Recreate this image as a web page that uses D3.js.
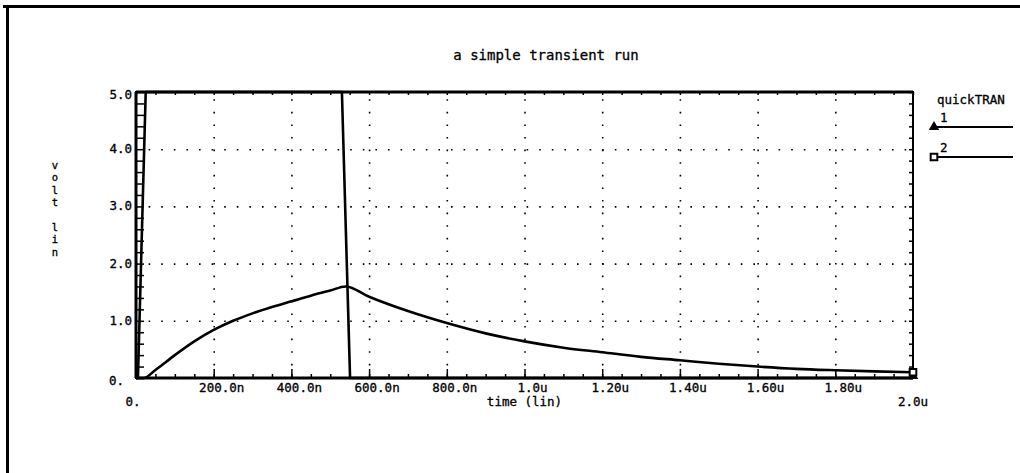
<!DOCTYPE html>
<html>
<head>
<meta charset="utf-8">
<script src="https://cdn.jsdelivr.net/npm/d3@7/dist/d3.min.js"></script>
<style>
  html, body { margin: 0; padding: 0; background: #fff; }
  svg { display: block; }
  text { font-family: "DejaVu Sans Mono", "Liberation Mono", monospace; fill: #000; stroke: #000; stroke-width: 0.3; }
</style>
</head>
<body>
<svg id="chart" width="1020" height="473"></svg>
<script>
// Transient run: time in microseconds, node voltages in volts
const pulseTime  = [0, 0.005, 0.025, 0.530, 0.551, 2.0];
const pulseVolts = [0, 0,     5.0,   5.0,   0,     0];

const rcTime  = [0, 0.02, 0.05, 0.10, 0.15, 0.20, 0.25, 0.30, 0.35, 0.40, 0.45, 0.50, 0.54,
                 0.60, 0.70, 0.80, 0.90, 1.00, 1.10, 1.20, 1.30, 1.40, 1.50, 1.60, 1.70, 1.80, 1.90, 2.00];
const rcVolts = [0, 0,    0.14, 0.40, 0.64, 0.84, 1.00, 1.13, 1.24, 1.34, 1.44, 1.53, 1.60,
                 1.42, 1.17, 0.96, 0.78, 0.64, 0.53, 0.45, 0.37, 0.31, 0.25, 0.20, 0.16, 0.135, 0.115, 0.10];

const xMajor = [0.2, 0.4, 0.6, 0.8, 1.0, 1.2, 1.4, 1.6, 1.8];
const xMajorLabels = ["200.0n", "400.0n", "600.0n", "800.0n", "1.0u", "1.20u", "1.40u", "1.60u", "1.80u"];
const yMajor = [0, 1, 2, 3, 4, 5];
const yMajorLabels = ["0.", "1.0", "2.0", "3.0", "4.0", "5.0"];

const chartTitle = "a simple transient run";
const xTitle = "time (lin)";
const yTitle = "volt lin";
const legendTitle = "quickTRAN";
const seriesNames = ["1", "2"];

const svg = d3.select("#chart");
const plot = { left: 136, right: 913, top: 92, bottom: 378 };

const x = d3.scaleLinear().domain([0, 2.0]).range([plot.left, plot.right]);
const y = d3.scaleLinear().domain([0, 5.0]).range([plot.bottom, plot.top]);

// page frame (top and left edges)
svg.append("line").attr("x1", 3).attr("x2", 1020).attr("y1", 6.5).attr("y2", 6.5)
  .attr("stroke", "#000").attr("stroke-width", 3);
svg.append("line").attr("x1", 7.5).attr("x2", 7.5).attr("y1", 5).attr("y2", 473)
  .attr("stroke", "#000").attr("stroke-width", 3);

// dotted grid
const grid = svg.append("g");
grid.append("g").attr("transform", `translate(0,${plot.bottom})`)
  .call(d3.axisBottom(x).tickValues(xMajor).tickSize(-(plot.bottom - plot.top)).tickFormat(""))
  .call(g => g.select(".domain").remove());
grid.append("g").attr("transform", `translate(${plot.left},0)`)
  .call(d3.axisLeft(y).tickValues(yMajor.slice(1, 5)).tickSize(-(plot.right - plot.left)).tickFormat(""))
  .call(g => g.select(".domain").remove());
grid.selectAll("line").attr("stroke", "#000").attr("stroke-width", 1.6)
  .attr("stroke-dasharray", "1.6,11");

// inward ticks on all four sides
const minorX = d3.range(0, 2.0001, 0.05);
const minorY = d3.range(0, 5.0001, 0.2);
function ticks(axis, tr) {
  const g = svg.append("g").attr("transform", tr).call(axis);
  g.select(".domain").remove();
  g.selectAll("line").attr("stroke", "#000").attr("stroke-width", 1.5);
  return g;
}
ticks(d3.axisBottom(x).tickValues(minorX).tickSize(-4).tickFormat(""), `translate(0,${plot.bottom})`);
ticks(d3.axisBottom(x).tickValues(xMajor).tickSize(-9).tickFormat(""), `translate(0,${plot.bottom})`);
ticks(d3.axisLeft(y).tickValues(minorY).tickSize(-8).tickFormat(""), `translate(${plot.left},0)`);
ticks(d3.axisTop(x).tickValues(minorX).tickSize(-3).tickFormat(""), `translate(0,${plot.top})`);
ticks(d3.axisRight(y).tickValues(minorY).tickSize(-4).tickFormat(""), `translate(${plot.right},0)`);

// plot frame
svg.append("rect").attr("x", plot.left).attr("y", plot.top)
  .attr("width", plot.right - plot.left).attr("height", plot.bottom - plot.top)
  .attr("fill", "none").attr("stroke", "#000").attr("stroke-width", 2);
svg.append("line").attr("x1", plot.left).attr("x2", plot.right).attr("y1", plot.bottom).attr("y2", plot.bottom)
  .attr("stroke", "#000").attr("stroke-width", 3);
svg.append("line").attr("x1", plot.left).attr("x2", plot.left).attr("y1", plot.top).attr("y2", plot.bottom)
  .attr("stroke", "#000").attr("stroke-width", 3);
svg.append("line").attr("x1", plot.left).attr("x2", plot.right).attr("y1", plot.top).attr("y2", plot.top)
  .attr("stroke", "#000").attr("stroke-width", 3);

// traces
const line = d3.line().x(d => x(d[0])).y(d => y(d[1]));
const pulse = pulseTime.map((t, i) => [t, pulseVolts[i]]);
const rc = rcTime.map((t, i) => [t, rcVolts[i]]);
svg.append("path").datum(pulse).attr("d", line)
  .attr("fill", "none").attr("stroke", "#000").attr("stroke-width", 2.6).attr("stroke-linejoin", "round");
svg.append("path").datum(rc).attr("d", d3.line().curve(d3.curveMonotoneX).x(d => x(d[0])).y(d => y(d[1])))
  .attr("fill", "none").attr("stroke", "#000").attr("stroke-width", 2.6).attr("stroke-linejoin", "round");

// end-of-trace markers
const tri = d3.symbol().type(d3.symbolTriangle).size(48);
const sq = d3.symbol().type(d3.symbolSquare).size(44);
const lastP = pulse[pulse.length - 1], lastR = rc[rc.length - 1];
svg.append("path").attr("d", tri).attr("transform", `translate(${x(lastP[0])},${y(lastP[1]) - 2})`).attr("fill", "#000");
svg.append("path").attr("d", sq).attr("transform", `translate(${x(lastR[0])},${y(lastR[1])})`)
  .attr("fill", "#fff").attr("stroke", "#000").attr("stroke-width", 2);

// tick labels
const fs = 12.5;
svg.append("g").selectAll("text").data(xMajor).join("text")
  .attr("x", d => x(d) + 8).attr("y", plot.bottom + 14).attr("text-anchor", "middle")
  .attr("font-size", fs).text((d, i) => xMajorLabels[i]);
svg.append("g").selectAll("text").data(yMajor).join("text")
  .attr("x", d => d === 0 ? plot.left - 12 : plot.left - 4)
  .attr("y", d => y(d) + 4 + (d === 0 ? 3 : 0) + (d === 5 ? 3 : 0))
  .attr("text-anchor", "end").attr("font-size", fs).text((d, i) => yMajorLabels[i]);
svg.append("text").attr("x", x(0) - 3).attr("y", plot.bottom + 28).attr("text-anchor", "middle")
  .attr("font-size", fs).text("0.");
svg.append("text").attr("x", x(2.0)).attr("y", plot.bottom + 28).attr("text-anchor", "middle")
  .attr("font-size", fs).text("2.0u");
svg.append("text").attr("x", x(1.0)).attr("y", plot.bottom + 28).attr("text-anchor", "middle")
  .attr("font-size", fs).text(xTitle);

// title
svg.append("text").attr("x", 546).attr("y", 60).attr("text-anchor", "middle")
  .attr("font-size", 14).text(chartTitle);

// vertical y title, one character per row
const yChars = yTitle.split("");
svg.append("g").selectAll("text").data(yChars).join("text")
  .attr("x", 55).attr("y", (d, i) => 169 + i * 12.4).attr("text-anchor", "middle")
  .attr("font-size", 10.5).text(d => d);

// legend
svg.append("text").attr("x", 937).attr("y", 104).attr("font-size", fs).text(legendTitle);
const legY = [127, 157];
const legMarks = [tri, sq];
legY.forEach((ly, i) => {
  svg.append("line").attr("x1", 934).attr("x2", 1013).attr("y1", ly).attr("y2", ly)
    .attr("stroke", "#000").attr("stroke-width", 2);
  svg.append("text").attr("x", 940).attr("y", ly - 5).attr("font-size", fs).text(seriesNames[i]);
  const m = svg.append("path").attr("d", legMarks[i]).attr("transform", `translate(934,${ly})`);
  if (i === 0) m.attr("fill", "#000");
  else m.attr("fill", "#fff").attr("stroke", "#000").attr("stroke-width", 2);
});
</script>
</body>
</html>
